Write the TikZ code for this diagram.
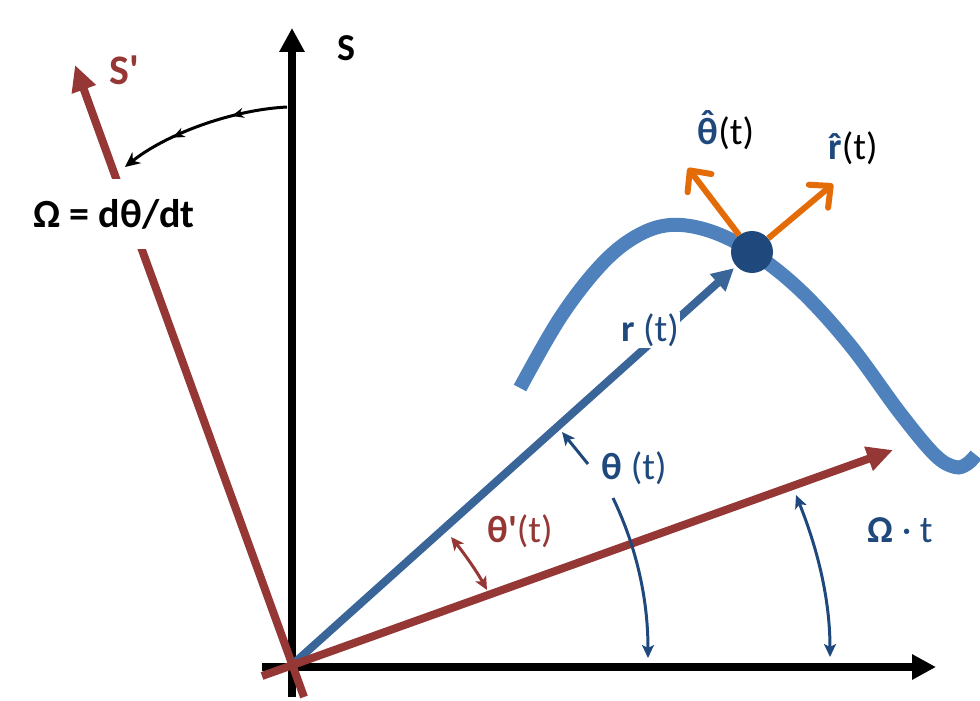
\documentclass[tikz,border=0pt]{standalone}
\usepackage{fontspec}
\setmainfont{Carlito}[Ligatures=TeXOff]
\usetikzlibrary{arrows.meta,decorations.markings}
\definecolor{myred}{HTML}{953735}
\definecolor{rblue}{HTML}{3A6598}
\definecolor{curveblue}{HTML}{4F81BD}
\definecolor{dkblue}{HTML}{1F497D}
\definecolor{orng}{HTML}{E36C09}
\newcommand\hatc[2]{\ooalign{#2\cr\hidewidth\raisebox{#1}{ˆ}\hidewidth\cr}}
\begin{document}
\begin{tikzpicture}[x=1pt,y=-1pt,
  lab/.style={font=\fontsize{38}{44}\selectfont, inner sep=2pt},
  axisline/.style={line width=8pt, -{Triangle[length=24pt,width=24pt]}},
  redaxis/.style={myred, line width=8pt, -{Triangle[length=26pt,width=24pt]}},
  thinblue/.style={line width=3pt, dkblue},
  mytip/.tip={Stealth[length=13pt,width=12pt,inset=3pt]},
  orarrow/.style={orng, line width=6pt, -{Straight Barb[length=16pt,width=30pt,round]}}
]
\useasboundingbox (0,0) rectangle (980,701);
\coordinate (O) at (292,665);
\coordinate (Ybot) at (292,697);
\coordinate (Ytop) at (292,28);
\coordinate (Xl) at (262,667);
\coordinate (Xr) at (936,667);
\coordinate (Sb) at (304,697);
\coordinate (St) at (75,65);
\coordinate (Xpl) at (262,676);
\coordinate (Xpr) at (893,450);
\coordinate (Th) at (688,168);
\coordinate (Rh) at (833,184);

% black axes
\draw[axisline] (Ybot) -- (Ytop);
\draw[axisline] (Xl) -- (Xr);

% trajectory
\draw[curveblue, line width=14pt] plot[smooth, tension=0.6] coordinates {(520,388) (560,318) (600,266) (635,237) (670,225) (710,231) (752,252) (800,290) (850,345) (900,413) (935,455) (955,467) (967,464) (976,455)};

% particle and unit vectors
\node[circle, fill=dkblue, minimum size=42pt, inner sep=0pt] (P) at (752,252) {};
\draw[orarrow] (P) -- (Th);
\draw[orarrow] (P) -- (Rh);

% position vector
\draw[rblue, line width=8pt, shorten >=3pt, -{Triangle[length=22pt,width=22pt]}] (O) -- (P);
\node[lab, fill=white, text=dkblue, inner sep=1pt] (rl) at (650,330) {\textbf{r} (t)};

% rotating axes
\draw[redaxis] (Sb) -- (St);
\draw[redaxis] (Xpl) -- (Xpr);

% labels
\node[lab] (S) at (346,48) {\textbf{S}};
\node[lab, text=myred, font=\fontsize{42}{48}\selectfont] (Sp) at (124,70) {\textbf{S'}};
\node[lab, fill=white, minimum height=70pt, font=\fontsize{40}{46}\selectfont] (om) at (114,214) {\textbf{Ω = dθ/dt}};
\node[lab] (thl) at (726,133) {\textcolor{dkblue}{\textbf{\hatc{0.2em}{θ}}}(t)};
\node[lab] (rhl) at (853,148) {\textcolor{dkblue}{\textbf{\hatc{0em}{r}}}(t)};
\node[lab, text=dkblue] (thl2) at (634,468) {\textbf{θ} (t)};
\node[lab, text=myred] (tpl) at (520,531) {\textbf{θ'}(t)};
\node[lab, text=dkblue] (omt) at (900,530) {\textbf{Ω} · t};

% rotation arrow
\coordinate (A1) at (287,107);
\coordinate (A2) at (125,167);
\draw[line width=3pt, postaction={decorate}, decoration={markings,
   mark=at position 0.32 with {\arrow{Stealth[length=12pt,width=10pt]}},
   mark=at position 0.68 with {\arrow{Stealth[length=12pt,width=10pt]}}},
   -{Stealth[length=15pt,width=14pt]}] (A1) .. controls (230,110) and (165,135) .. (A2);

% angle arrows
\coordinate (ta1) at (588,464);
\coordinate (ta2) at (562,432);
\draw[thinblue, -{mytip}] (ta1) -- (ta2);
\coordinate (tb1) at (613,498);
\coordinate (tb2) at (648,658);
\draw[thinblue, -{mytip}] (tb1) .. controls (637,548) and (648,600) .. (tb2);
\coordinate (oa1) at (796,495);
\coordinate (oa2) at (830,657);
\draw[thinblue, {mytip}-{mytip}] (oa1) .. controls (818,550) and (830,600) .. (oa2);
\coordinate (pa1) at (451,537);
\coordinate (pa2) at (487,590);
\draw[myred, line width=3pt, {mytip}-{mytip}] (pa1) .. controls (463,552) and (476,570) .. (pa2);
\end{tikzpicture}
\end{document}
